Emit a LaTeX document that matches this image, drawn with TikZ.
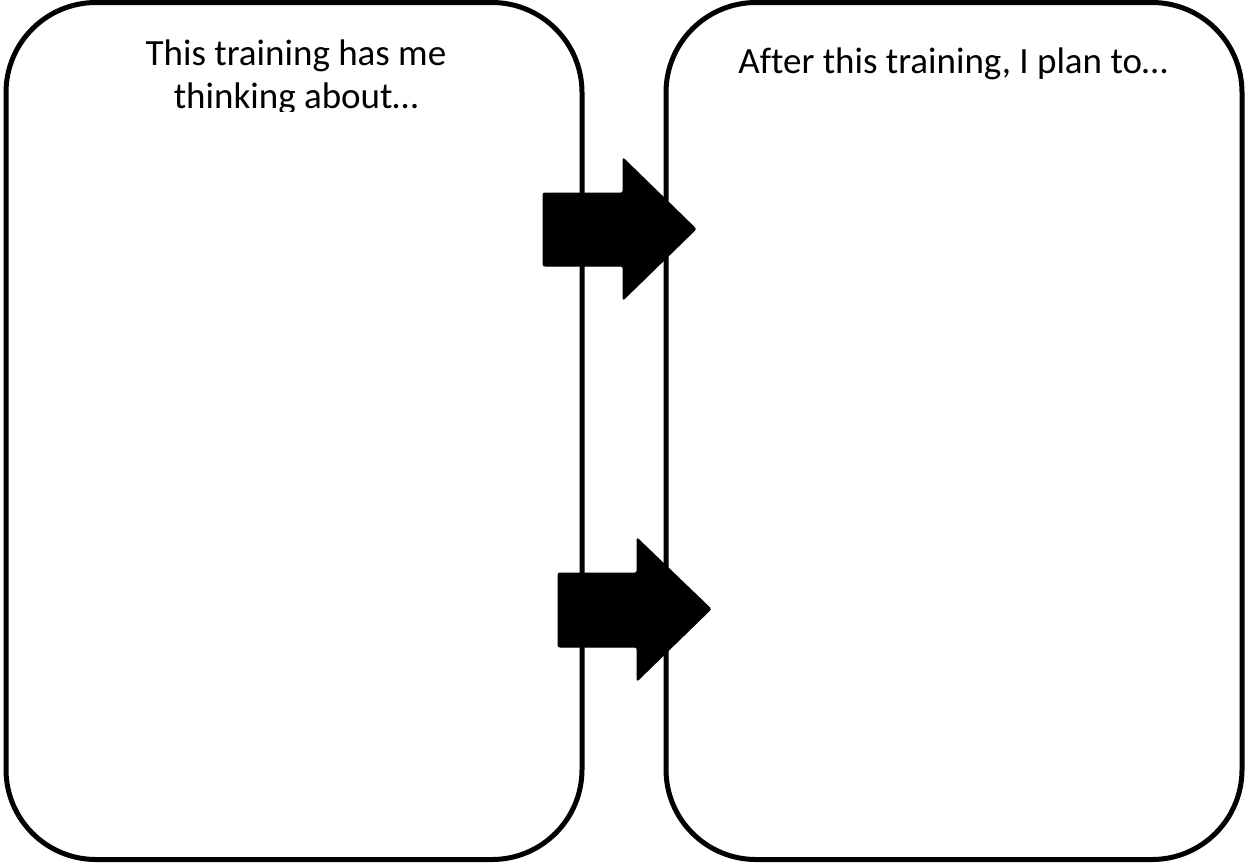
\documentclass[tikz,border=0pt]{standalone}
\usepackage{fontspec}
\setmainfont{Carlito}[Ligatures=NoCommon]
\begin{document}
\begin{tikzpicture}[x=1pt,y=-1pt,
  panel/.style={draw=black, line width=5pt, rounded corners=90pt, inner sep=0pt},
  bigarrow/.style={fill=black, draw=black, line width=1pt, rounded corners=2pt},
  label/.style={font=\fontsize{37}{43}\selectfont, align=center, inner sep=0pt, anchor=base}]
\useasboundingbox (0,0) rectangle (1246,863);
\node[panel, minimum width=576pt, minimum height=857pt] (left) at (294,431) {};
\node[panel, minimum width=576pt, minimum height=857pt] (right) at (954,431) {};
% arrows
\filldraw[bigarrow] (543,193) -- (623,193) -- (623,158) -- (696,229) -- (623,300) -- (623,266) -- (543,266) -- cycle;
\filldraw[bigarrow] (558,573) -- (637,573) -- (637,538) -- (711,609) -- (637,681) -- (637,647) -- (558,647) -- cycle;
% texts
\begin{scope}
\clip (0,0) rectangle (1246,111);
\node[label] (lefttext) at (296,65) {This training has me};
\node[label] (lefttext2) at (296,108) {thinking about…};
\end{scope}
\node[label] (righttext) at (953,73) {After this training, I plan to…};
\end{tikzpicture}
\end{document}
